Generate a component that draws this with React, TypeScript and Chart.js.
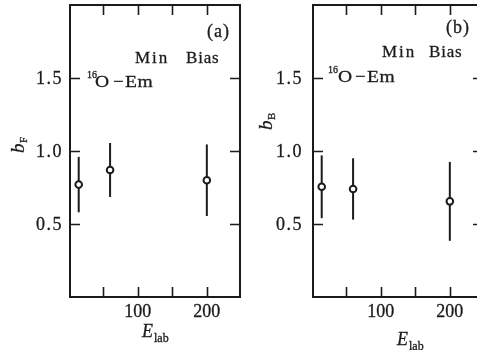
import React, { useEffect, useRef } from "react";
import { Chart, registerables } from "chart.js";

Chart.register(...registerables);

// Beam energies (A GeV) and the fitted b parameters with their errors
const energies = [14.6, 60, 200];
const forwardB = [0.77, 0.87, 0.8];
const forwardErr = [0.19, 0.185, 0.245];
const backwardB = [0.755, 0.74, 0.655];
const backwardErr = [0.215, 0.21, 0.27];

const xTickValues = [50, 100, 150, 200];
const xLabelValues = [100, 200];
const yTickValues = [0.5, 1.0, 1.5];
const yTickLabels = ["0.5", "1.0", "1.5"];

const INK = "#1b1b1b";
const SERIF = '"Liberation Serif", "DejaVu Serif", serif';

type PanelCfg = {
  left: number;
  values: number[];
  errors: number[];
  tag: string;
  sub: string;
  tagRight: number;
  tagBase: number;
  minX: number;
  biasX: number;
  mbBase: number;
  supX: number;
  oX: number;
  dashX: number;
  emX: number;
  oBase: number;
  yTitleX: number;
  yTitleY: number;
  eX: number;
  eBase: number;
  yLabelPad: number;
};

const panels: PanelCfg[] = [
  {
    left: 0,
    values: forwardB,
    errors: forwardErr,
    tag: "(a)",
    sub: "F",
    tagRight: 160,
    tagBase: 37,
    minX: 65,
    biasX: 116,
    mbBase: 63,
    supX: 17,
    oX: 25,
    dashX: 43,
    emX: 55,
    oBase: 87,
    yTitleX: -52,
    yTitleY: 146,
    eX: 72,
    eBase: 337,
    yLabelPad: 7,
  },
  {
    left: 243,
    values: backwardB,
    errors: backwardErr,
    tag: "(b)",
    sub: "B",
    tagRight: 157,
    tagBase: 33,
    minX: 69,
    biasX: 116,
    mbBase: 57,
    supX: 15,
    oX: 25,
    dashX: 42,
    emX: 54,
    oBase: 82,
    yTitleX: -47,
    yTitleY: 123,
    eX: 84,
    eBase: 345,
    yLabelPad: 10,
  },
];

function text(
  ctx: CanvasRenderingContext2D,
  s: string,
  x: number,
  y: number,
  font: string,
  align: CanvasTextAlign = "left",
  spacing = 0,
  scaleX = 1
) {
  ctx.save();
  ctx.translate(x, y);
  ctx.scale(scaleX, 1);
  ctx.font = font;
  ctx.fillStyle = INK;
  ctx.strokeStyle = INK;
  ctx.lineWidth = 0.3;
  ctx.textAlign = align;
  ctx.textBaseline = "alphabetic";
  (ctx as any).letterSpacing = spacing + "px";
  ctx.fillText(s, 0, 0);
  ctx.strokeText(s, 0, 0);
  ctx.restore();
}

function makePlugin(cfg: PanelCfg) {
  return {
    id: "panelDecor",
    beforeDatasetsDraw(chart: any) {
      const ctx: CanvasRenderingContext2D = chart.ctx;
      const xs = chart.scales.x;
      const ys = chart.scales.y;
      ctx.save();
      ctx.strokeStyle = INK;
      ctx.lineWidth = 2;
      energies.forEach((e, i) => {
        const px = xs.getPixelForValue(e);
        const top = ys.getPixelForValue(cfg.values[i] + cfg.errors[i]);
        const bot = ys.getPixelForValue(cfg.values[i] - cfg.errors[i]);
        ctx.beginPath();
        ctx.moveTo(px, top);
        ctx.lineTo(px, bot);
        ctx.stroke();
      });
      ctx.restore();
    },
    afterDraw(chart: any) {
      const ctx: CanvasRenderingContext2D = chart.ctx;
      const { left, right, top, bottom } = chart.chartArea;
      const xs = chart.scales.x;
      const ys = chart.scales.y;
      const tick = 10;

      ctx.save();
      ctx.strokeStyle = INK;
      ctx.lineWidth = 2;
      ctx.strokeRect(left, top, right - left, bottom - top);

      ctx.beginPath();
      xTickValues.forEach((v) => {
        const px = Math.round(xs.getPixelForValue(v)) + 0.5;
        ctx.moveTo(px, bottom);
        ctx.lineTo(px, bottom - tick);
        ctx.moveTo(px, top);
        ctx.lineTo(px, top + tick);
      });
      yTickValues.forEach((v) => {
        const py = Math.round(ys.getPixelForValue(v)) + 0.5;
        ctx.moveTo(left, py);
        ctx.lineTo(left + tick, py);
        ctx.moveTo(right, py);
        ctx.lineTo(right - tick, py);
      });
      ctx.lineWidth = 1.6;
      ctx.stroke();
      ctx.restore();

      // tick labels
      const tickFont = `18px ${SERIF}`;
      yTickValues.forEach((v, i) => {
        const py = ys.getPixelForValue(v);
        text(ctx, yTickLabels[i], left - cfg.yLabelPad, py + 6, tickFont, "right", 1.5);
      });
      xLabelValues.forEach((v) => {
        const px = xs.getPixelForValue(v);
        text(ctx, String(v), px, bottom + 20, tickFont, "center");
      });

      // axis titles
      ctx.save();
      ctx.translate(left + cfg.yTitleX, cfg.yTitleY);
      ctx.rotate(-Math.PI / 2);
      text(ctx, "b", -7, 6, `italic 19px ${SERIF}`);
      text(ctx, cfg.sub, 3, 9, `11px ${SERIF}`);
      ctx.restore();

      text(ctx, "E", left + cfg.eX, cfg.eBase, `italic 18px ${SERIF}`);
      text(ctx, "lab", left + cfg.eX + 12, cfg.eBase + 5, `12px ${SERIF}`);

      // annotations
      text(ctx, cfg.tag, left + cfg.tagRight, cfg.tagBase, `18px ${SERIF}`, "right", 1);
      text(ctx, "Min", left + cfg.minX, cfg.mbBase, `17px ${SERIF}`, "left", 2);
      text(ctx, "Bias", left + cfg.biasX, cfg.mbBase, `17px ${SERIF}`, "left", 0.8);
      text(ctx, "16", left + cfg.supX, cfg.oBase - 9, `10px ${SERIF}`);
      text(ctx, "O", left + cfg.oX, cfg.oBase, `17px ${SERIF}`, "left", 0, 1.15);
      text(ctx, "\u2212", left + cfg.dashX, cfg.oBase, `17px ${SERIF}`, "left", 0, 1.1);
      text(ctx, "Em", left + cfg.emX, cfg.oBase, `17px ${SERIF}`, "left", 0.5, 1.15);
    },
  };
}

function Panel({ cfg }: { cfg: PanelCfg }) {
  const ref = useRef<HTMLCanvasElement>(null);

  useEffect(() => {
    const canvas = ref.current;
    if (!canvas) return;
    const chart = new Chart(canvas, {
      type: "scatter",
      data: {
        datasets: [
          {
            data: energies.map((e, i) => ({ x: e, y: cfg.values[i] })),
            pointRadius: 3.3,
            pointBorderWidth: 2,
            pointBackgroundColor: "#ffffff",
            pointBorderColor: INK,
            pointHoverRadius: 3.3,
          },
        ],
      },
      options: {
        animation: false,
        responsive: false,
        devicePixelRatio: 1,
        events: [],
        layout: { padding: { top: 5, right: 10, left: 0, bottom: 0 }, autoPadding: false },
        plugins: { legend: { display: false }, tooltip: { enabled: false } },
        scales: {
          x: {
            type: "linear",
            min: 2,
            max: 248,
            ticks: { display: false },
            grid: { display: false },
            border: { display: false },
            afterFit: (s: any) => {
              s.height = 53;
            },
          },
          y: {
            type: "linear",
            min: 0,
            max: 2,
            ticks: { display: false },
            grid: { display: false },
            border: { display: false },
            afterFit: (s: any) => {
              s.width = 70;
            },
          },
        },
      },
      plugins: [makePlugin(cfg)],
    } as any);
    return () => chart.destroy();
  }, [cfg]);

  return (
    <canvas
      ref={ref}
      width={250}
      height={350}
      style={{ position: "absolute", left: cfg.left, top: 0, width: 250, height: 350 }}
    />
  );
}

export default function App() {
  return (
    <div
      style={{
        position: "absolute",
        left: 0,
        top: 0,
        width: 477,
        height: 350,
        overflow: "hidden",
        background: "#ffffff",
      }}
    >
      {panels.map((p) => (
        <Panel key={p.tag} cfg={p} />
      ))}
    </div>
  );
}
